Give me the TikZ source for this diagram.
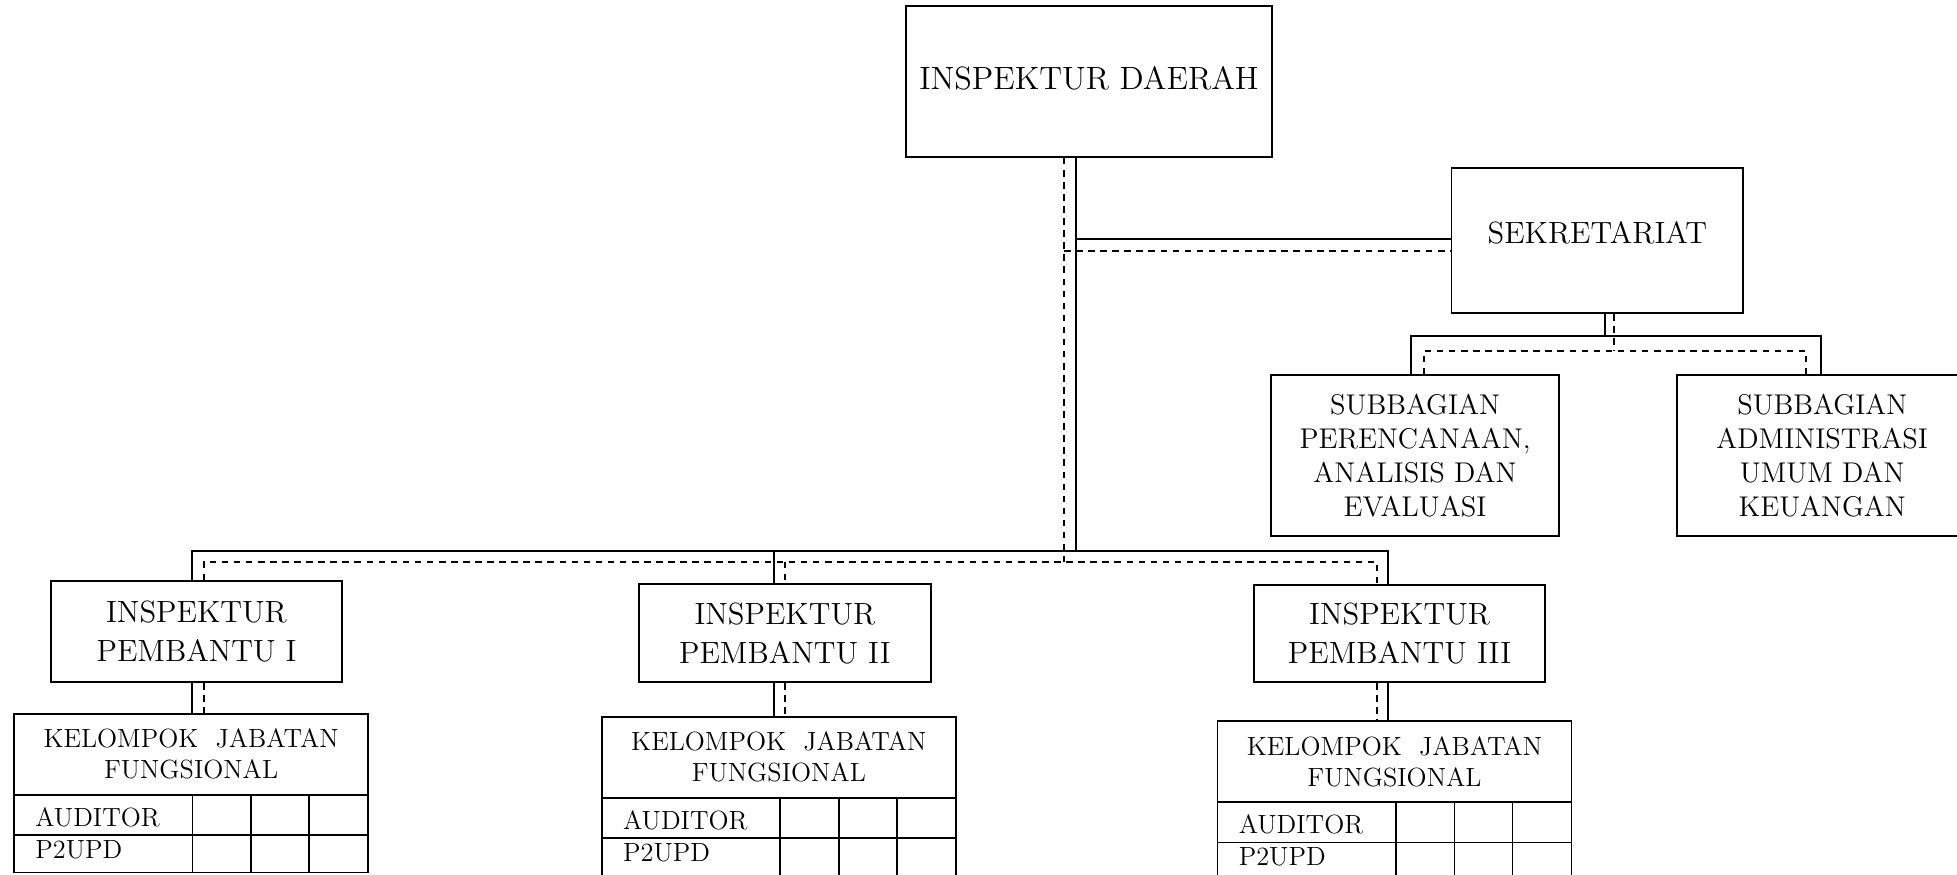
\documentclass[tikz,border=0pt]{standalone}
\usepackage{fontspec}
\usepackage{tikz}
\usetikzlibrary{calc}
\newcommand{\headfont}{\fontsize{14.7}{17.6}\selectfont}
\newcommand{\boxfont}{\fontsize{14}{17.6}\selectfont}
\newcommand{\subfont}{\fontsize{13}{15.5}\selectfont}
\newcommand{\tabfont}{\fontsize{12}{14.1}\selectfont}

\begin{document}
\begin{tikzpicture}[scale=1,
    unitbox/.style={draw, line width=0.8pt, inner sep=0pt, align=center, font=\boxfont},
    subbox/.style={unitbox, font=\subfont},
    kjfbox/.style={unitbox, font=\tabfont, minimum width=5.676cm, minimum height=1.3cm},
    rowtext/.style={anchor=base west, inner sep=0pt, font=\tabfont},
    boxline/.style={line width=0.8pt},
    solidlink/.style={line width=0.8pt},
    dashlink/.style={line width=0.8pt, dash pattern=on 3pt off 2.5pt}]
    \useasboundingbox (0,0) rectangle (31.36,-14.02);

    % Pimpinan
    \node[unitbox, font=\headfont, minimum width=5.86cm, minimum height=2.426cm, text depth=0.1cm] (ird) at (17.45,-1.303) {INSPEKTUR DAERAH};
    \node[unitbox, minimum width=4.672cm, minimum height=2.322cm, text depth=0.28cm] (sek) at (25.596,-3.859) {SEKRETARIAT};

    % Subbagian
    \node[subbox, minimum width=4.61cm, minimum height=2.582cm] (sub1) at (22.675,-7.301) {SUBBAGIAN\\PERENCANAAN,\\ANALISIS DAN\\EVALUASI};
    \node[subbox, minimum width=4.664cm, minimum height=2.582cm] (sub2) at (29.2,-7.301) {SUBBAGIAN\\ADMINISTRASI\\UMUM DAN\\KEUANGAN};

    % Inspektur pembantu
    \node[unitbox, minimum width=4.674cm, minimum height=1.624cm] (ip1) at (3.149,-10.122) {INSPEKTUR\\PEMBANTU I};
    \node[unitbox, minimum width=4.674cm, minimum height=1.57cm] (ip2) at (12.577,-10.149) {INSPEKTUR\\PEMBANTU II};
    \node[unitbox, minimum width=4.662cm, minimum height=1.56cm] (ip3) at (22.427,-10.154) {INSPEKTUR\\PEMBANTU III};

    % Kelompok jabatan fungsional I
    \begin{scope}[shift={(0.224,-11.436)}]
        \node[kjfbox] (kjf1) at (2.838,-0.65) {KELOMPOK\ \ JABATAN\\FUNGSIONAL};
        \draw[boxline] (0,-1.3) rectangle (5.676,-2.545);
        \draw[boxline] (0,-1.945) -- (5.676,-1.945);
        \draw[boxline] (2.86,-1.3) -- (2.86,-2.545);
        \draw[boxline] (3.80,-1.3) -- (3.80,-2.545);
        \draw[boxline] (4.73,-1.3) -- (4.73,-2.545);
        \node[rowtext] (aud1) at (0.336,-1.81) {AUDITOR};
        \node[rowtext] (pud1) at (0.336,-2.32) {P2UPD};
    \end{scope}

    % Kelompok jabatan fungsional II
    \begin{scope}[shift={(9.642,-11.484)}]
        \node[kjfbox] (kjf2) at (2.838,-0.65) {KELOMPOK\ \ JABATAN\\FUNGSIONAL};
        \draw[boxline] (0,-1.3) rectangle (5.676,-2.545);
        \draw[boxline] (0,-1.945) -- (5.676,-1.945);
        \draw[boxline] (2.86,-1.3) -- (2.86,-2.545);
        \draw[boxline] (3.80,-1.3) -- (3.80,-2.545);
        \draw[boxline] (4.73,-1.3) -- (4.73,-2.545);
        \node[rowtext] (aud2) at (0.336,-1.81) {AUDITOR};
        \node[rowtext] (pud2) at (0.336,-2.32) {P2UPD};
    \end{scope}

    % Kelompok jabatan fungsional III
    \begin{scope}[shift={(19.508,-11.554)}]
        \node[kjfbox] (kjf3) at (2.838,-0.65) {KELOMPOK\ \ JABATAN\\FUNGSIONAL};
        \draw[boxline] (0,-1.3) rectangle (5.676,-2.545);
        \draw[boxline] (0,-1.945) -- (5.676,-1.945);
        \draw[boxline] (2.86,-1.3) -- (2.86,-2.545);
        \draw[boxline] (3.80,-1.3) -- (3.80,-2.545);
        \draw[boxline] (4.73,-1.3) -- (4.73,-2.545);
        \node[rowtext] (aud3) at (0.336,-1.81) {AUDITOR};
        \node[rowtext] (pud3) at (0.336,-2.32) {P2UPD};
    \end{scope}

    % Junction points
    \coordinate (trunk) at (17.24,-8.824);
    \coordinate (trunkd) at (17.05,-9.0);
    \coordinate (sekj) at (17.24,-3.83);
    \coordinate (sekjd) at (17.05,-4.018);
    \coordinate (subj) at (25.72,-5.38);
    \coordinate (subjd) at (25.86,-5.62);
    \coordinate (subL) at (22.61,-5.38);
    \coordinate (subR) at (29.18,-5.38);
    \coordinate (subLd) at (22.82,-5.62);
    \coordinate (subRd) at (28.934,-5.62);
    \coordinate (busL) at (3.08,-8.824);
    \coordinate (busM) at (12.408,-8.824);
    \coordinate (busR) at (22.245,-8.824);
    \coordinate (busLd) at (3.27,-9.0);
    \coordinate (busMd) at (12.58,-9.0);
    \coordinate (busRd) at (22.06,-9.0);

    % Garis komando (solid)
    \draw[solidlink] (ird.south -| trunk) -- (trunk);
    \draw[solidlink] (sekj) -- (sekj -| sek.west);
    \draw[solidlink] (sek.south -| subj) -- (subj);
    \draw[solidlink] (sub1.north -| subL) -- (subL) -- (subR) -- (sub2.north -| subR);
    \draw[solidlink] (ip1.north -| busL) -- (busL) -- (busR) -- (ip3.north -| busR);
    \draw[solidlink] (busM) -- (ip2.north -| busM);
    \draw[solidlink] (ip1.south -| busL) -- (kjf1.north -| busL);
    \draw[solidlink] (ip2.south -| busM) -- (kjf2.north -| busM);
    \draw[solidlink] (ip3.south -| busR) -- (kjf3.north -| busR);

    % Garis koordinasi (dashed)
    \draw[dashlink] (ird.south -| trunkd) -- (trunkd);
    \draw[dashlink] (sekjd) -- (sekjd -| sek.west);
    \draw[dashlink] (sek.south -| subjd) -- (subjd);
    \draw[dashlink] (sub1.north -| subLd) -- (subLd) -- (subRd) -- (sub2.north -| subRd);
    \draw[dashlink] (ip1.north -| busLd) -- (busLd) -- (busRd) -- (ip3.north -| busRd);
    \draw[dashlink] (busMd) -- (ip2.north -| busMd);
    \draw[dashlink] (ip1.south -| busLd) -- (kjf1.north -| busLd);
    \draw[dashlink] (ip2.south -| busMd) -- (kjf2.north -| busMd);
    \draw[dashlink] (ip3.south -| busRd) -- (kjf3.north -| busRd);
\end{tikzpicture}
\end{document}
